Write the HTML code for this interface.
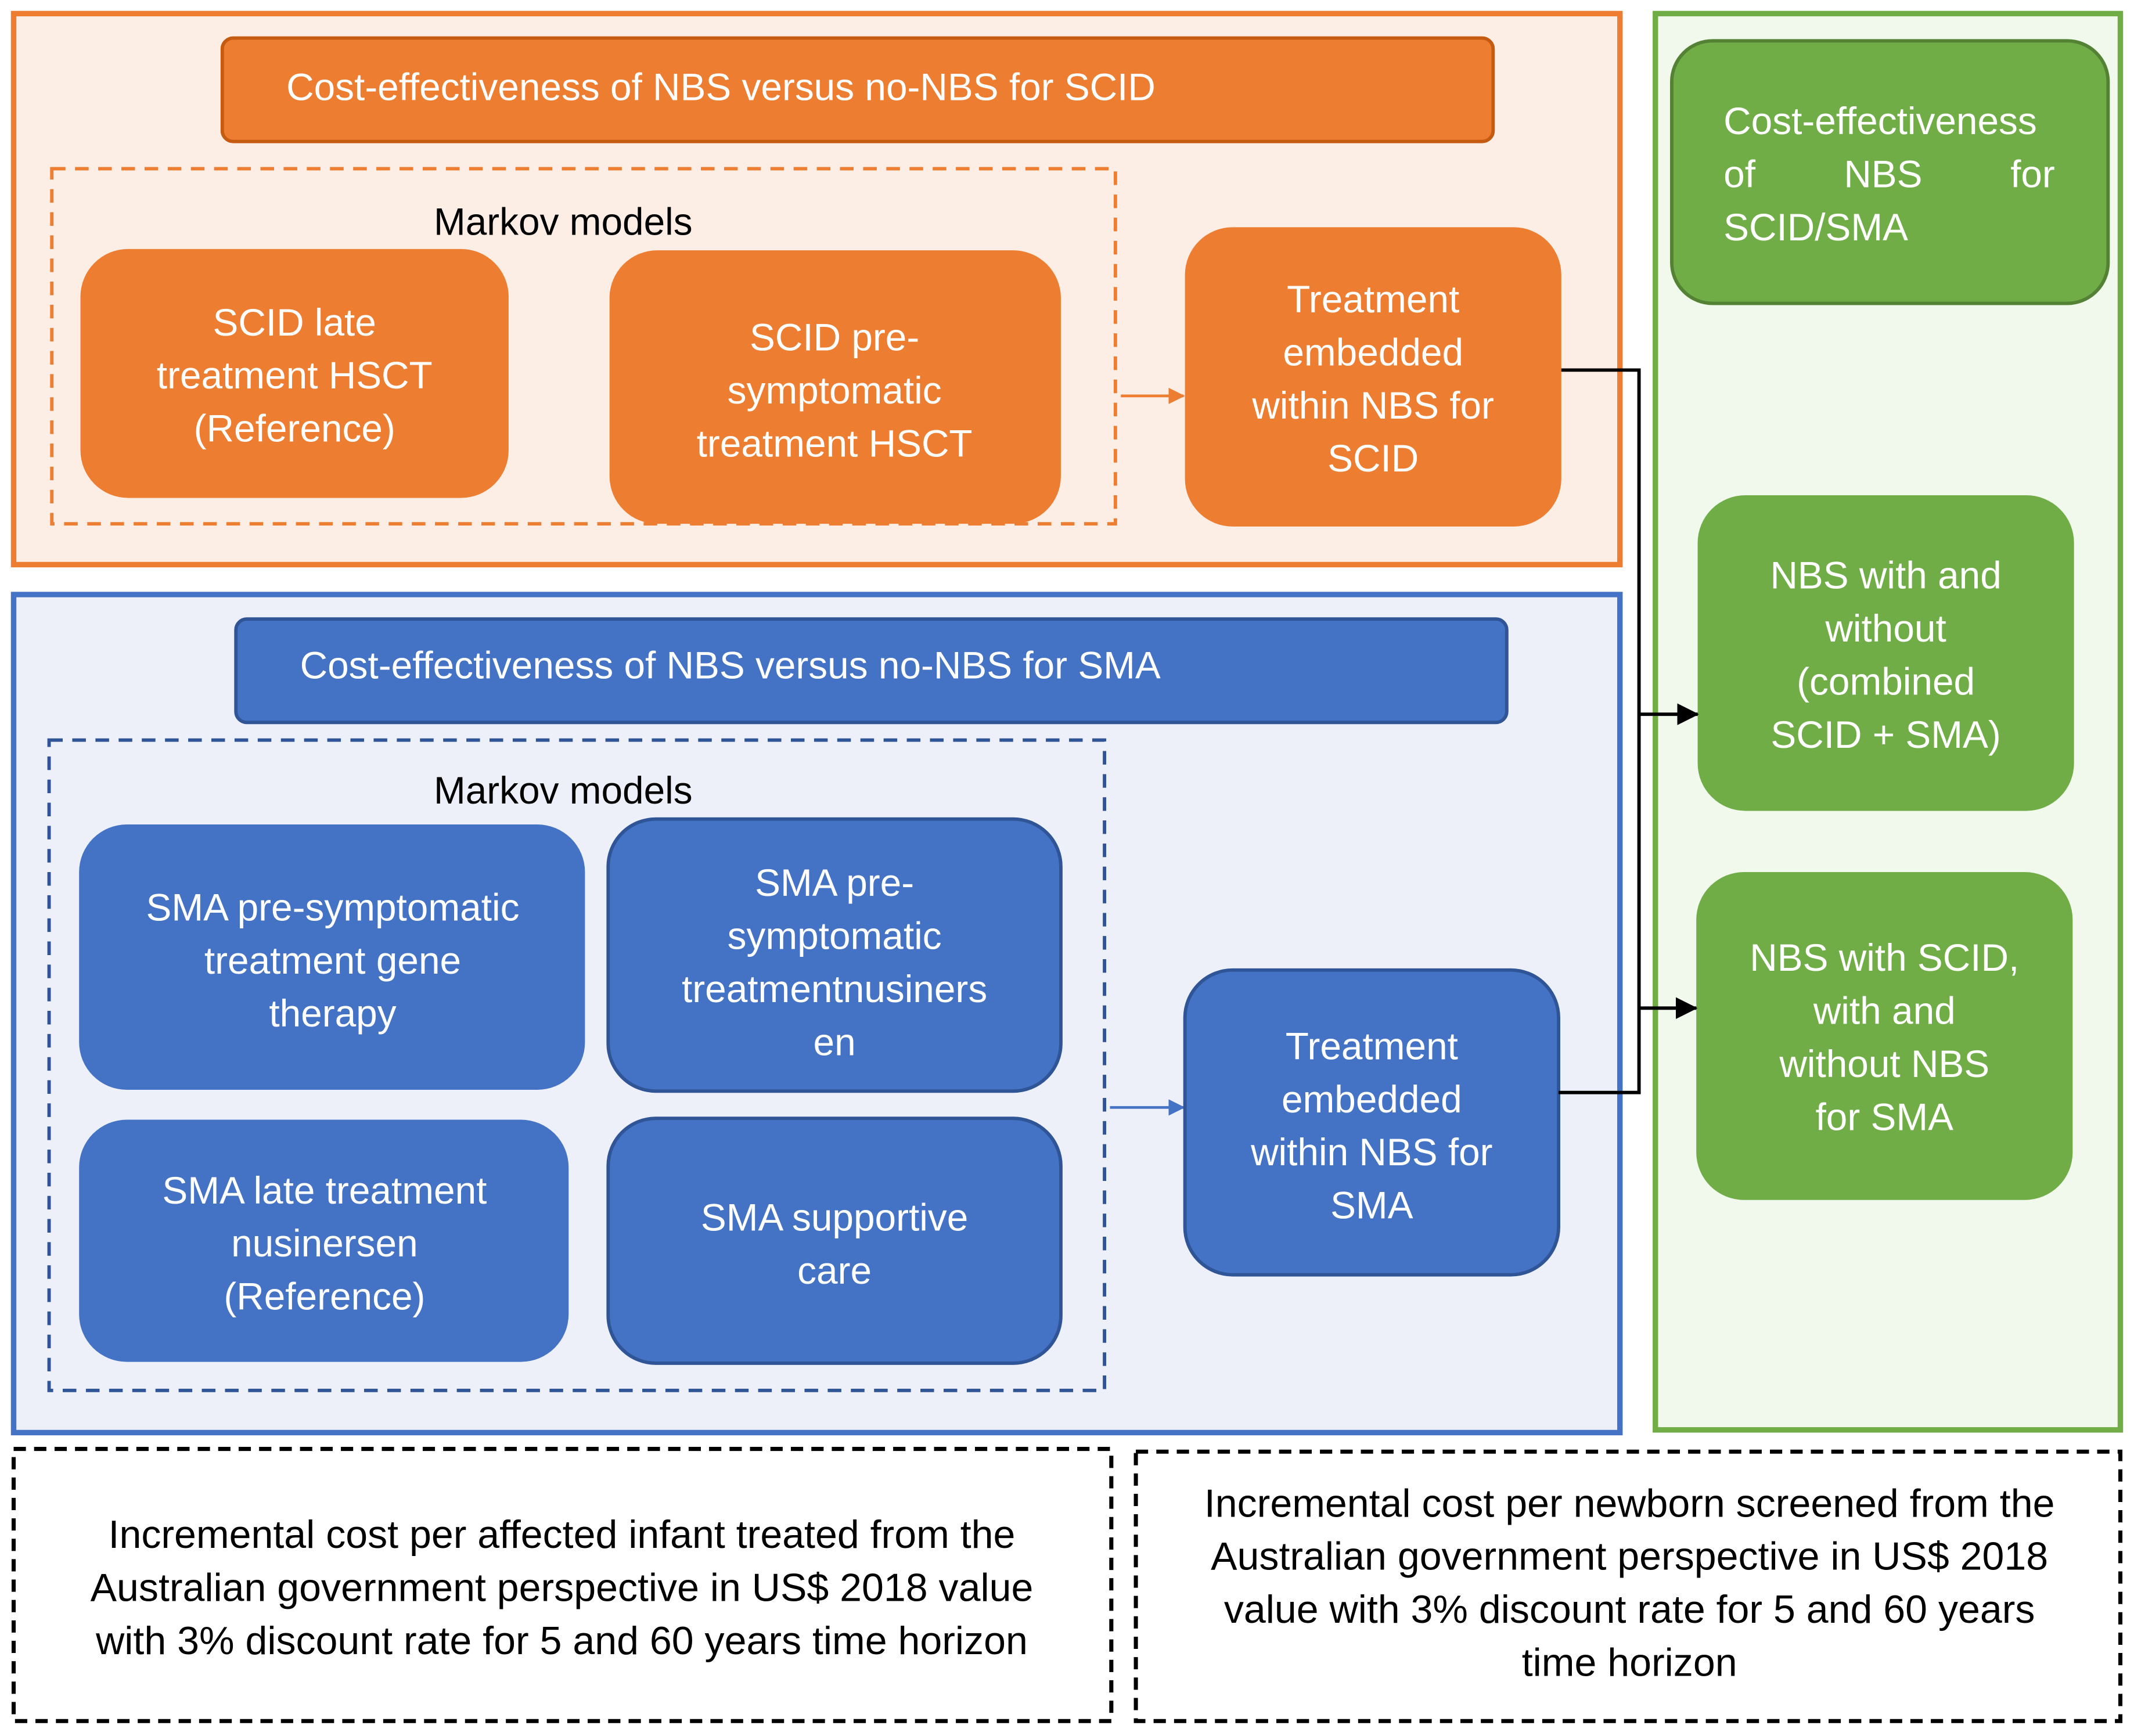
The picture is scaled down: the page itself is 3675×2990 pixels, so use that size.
<!DOCTYPE html>
<html><head><meta charset="utf-8"><style>
html,body{margin:0;padding:0;background:#fff;}
svg{display:block;}
text{font-family:"Liberation Sans",sans-serif;font-size:28px;dominant-baseline:central;}
.w{fill:#fff;text-anchor:middle;}
.b{fill:#000;text-anchor:middle;}
.bt{font-size:29px;}
</style></head><body>
<svg width="3675" height="2990" viewBox="0 0 1565 1276" preserveAspectRatio="none" xmlns="http://www.w3.org/2000/svg">
<defs>
<marker id="ao" markerWidth="12" markerHeight="12" refX="11" refY="6" orient="auto" markerUnits="userSpaceOnUse"><path d="M0,0 L12,6 L0,12z" fill="#ED7D31"/></marker>
<marker id="abl" markerWidth="12" markerHeight="12" refX="11" refY="6" orient="auto" markerUnits="userSpaceOnUse"><path d="M0,0 L12,6 L0,12z" fill="#4472C4"/></marker>
<marker id="ak" markerWidth="16" markerHeight="16" refX="15" refY="8" orient="auto" markerUnits="userSpaceOnUse"><path d="M0,0 L16,8 L0,16z" fill="#000"/></marker>
</defs>
<rect width="1565" height="1276" fill="#fff"/>
<rect x="10" y="10" width="1178" height="405" fill="#FDEEE5" stroke="#ED7D31" stroke-width="4"/>
<rect x="163" y="28" width="932" height="76" rx="8" fill="#ED7D31" stroke="#C55A11" stroke-width="2.5"/>
<text x="210" y="64" style="fill:#fff">Cost-effectiveness of NBS versus no-NBS for SCID</text>
<rect x="38" y="124" width="780" height="261" fill="none" stroke="#ED7D31" stroke-width="2.5" stroke-dasharray="10,7"/>
<text class="b" x="413" y="163">Markov models</text>
<rect x="59" y="183" width="314" height="183" rx="35" fill="#ED7D31"/>
<text class="w" x="216" y="237">SCID late</text><text class="w" x="216" y="276">treatment HSCT</text><text class="w" x="216" y="315">(Reference)</text>
<rect x="447" y="184" width="331" height="201" rx="35" fill="#ED7D31"/>
<text class="w" x="612" y="248">SCID pre-</text><text class="w" x="612" y="287">symptomatic</text><text class="w" x="612" y="326">treatment HSCT</text>
<line x1="822" y1="291" x2="868" y2="291" stroke="#ED7D31" stroke-width="2" marker-end="url(#ao)"/>
<rect x="869" y="167" width="276" height="220" rx="35" fill="#ED7D31"/>
<text class="w" x="1007" y="220">Treatment</text><text class="w" x="1007" y="259">embedded</text><text class="w" x="1007" y="298">within NBS for</text><text class="w" x="1007" y="337">SCID</text>
<rect x="10" y="437" width="1178" height="616" fill="#EDF0F8" stroke="#4472C4" stroke-width="4"/>
<rect x="173" y="455" width="932" height="76" rx="8" fill="#4472C4" stroke="#2F5597" stroke-width="2.5"/>
<text x="220" y="489" style="fill:#fff">Cost-effectiveness of NBS versus no-NBS for SMA</text>
<rect x="36" y="544" width="774" height="478" fill="none" stroke="#2F5597" stroke-width="2.5" stroke-dasharray="10,7"/>
<text class="b" x="413" y="581">Markov models</text>
<rect x="58" y="606" width="371" height="195" rx="35" fill="#4472C4"/>
<text class="w" x="244" y="667">SMA pre-symptomatic</text><text class="w" x="244" y="706">treatment gene</text><text class="w" x="244" y="745">therapy</text>
<rect x="446" y="602" width="332" height="200" rx="35" fill="#4472C4" stroke="#2F5597" stroke-width="2.5"/>
<text class="w" x="612" y="649">SMA pre-</text><text class="w" x="612" y="688">symptomatic</text><text class="w" x="612" y="727">treatmentnusiners</text><text class="w" x="612" y="766">en</text>
<rect x="58" y="823" width="359" height="178" rx="35" fill="#4472C4"/>
<text class="w" x="238" y="875">SMA late treatment</text><text class="w" x="238" y="914">nusinersen</text><text class="w" x="238" y="953">(Reference)</text>
<rect x="446" y="822" width="332" height="180" rx="35" fill="#4472C4" stroke="#2F5597" stroke-width="2.5"/>
<text class="w" x="612" y="895">SMA supportive</text><text class="w" x="612" y="934">care</text>
<line x1="814" y1="814" x2="868" y2="814" stroke="#4472C4" stroke-width="2" marker-end="url(#abl)"/>
<rect x="869" y="713" width="274" height="224" rx="35" fill="#4472C4" stroke="#2F5597" stroke-width="2.5"/>
<text class="w" x="1006" y="769">Treatment</text><text class="w" x="1006" y="808">embedded</text><text class="w" x="1006" y="847">within NBS for</text><text class="w" x="1006" y="886">SMA</text>
<rect x="1214" y="10" width="341" height="1041" fill="#F1F8EC" stroke="#70AD47" stroke-width="4"/>
<rect x="1226" y="30" width="320" height="193" rx="30" fill="#70AD47" stroke="#548235" stroke-width="2.5"/>
<text x="1264" y="89" style="fill:#fff">Cost-effectiveness</text>
<text x="1264" y="128" style="fill:#fff">of</text><text x="1381" y="128" style="fill:#fff;text-anchor:middle">NBS</text><text x="1507" y="128" style="fill:#fff;text-anchor:end">for</text>
<text x="1264" y="167" style="fill:#fff">SCID/SMA</text>
<rect x="1245" y="364" width="276" height="232" rx="35" fill="#70AD47"/>
<text class="w" x="1383" y="423">NBS with and</text><text class="w" x="1383" y="462">without</text><text class="w" x="1383" y="501">(combined</text><text class="w" x="1383" y="540">SCID + SMA)</text>
<rect x="1244" y="641" width="276" height="241" rx="35" fill="#70AD47"/>
<text class="w" x="1382" y="704">NBS with SCID,</text><text class="w" x="1382" y="743">with and</text><text class="w" x="1382" y="782">without NBS</text><text class="w" x="1382" y="821">for SMA</text>
<polyline points="1145,272 1202,272 1202,803 1143,803" fill="none" stroke="#000" stroke-width="2.5"/>
<line x1="1202" y1="525" x2="1245" y2="525" stroke="#000" stroke-width="2.5" marker-end="url(#ak)"/>
<line x1="1202" y1="741" x2="1244" y2="741" stroke="#000" stroke-width="2.5" marker-end="url(#ak)"/>
<rect x="10" y="1065" width="805" height="200" fill="#fff" stroke="#000" stroke-width="3" stroke-dasharray="9,6"/>
<text class="b bt" x="412" y="1128">Incremental cost per affected infant treated from the</text>
<text class="b bt" x="412" y="1167">Australian government perspective in US$ 2018 value</text>
<text class="b bt" x="412" y="1206">with 3% discount rate for 5 and 60 years time horizon</text>
<rect x="833" y="1067" width="722" height="198" fill="#fff" stroke="#000" stroke-width="3" stroke-dasharray="9,6"/>
<text class="b bt" x="1195" y="1105">Incremental cost per newborn screened from the</text>
<text class="b bt" x="1195" y="1144">Australian government perspective in US$ 2018</text>
<text class="b bt" x="1195" y="1183">value with 3% discount rate for 5 and 60 years</text>
<text class="b bt" x="1195" y="1222">time horizon</text>
</svg>
</body></html>
